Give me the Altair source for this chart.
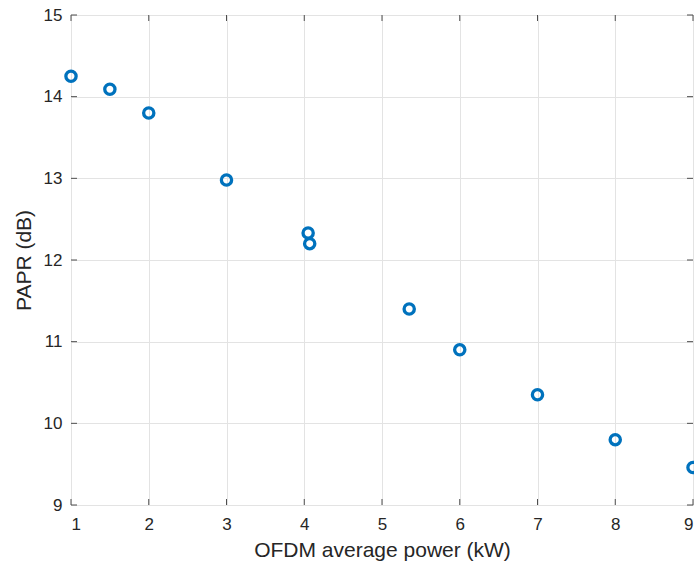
import altair as alt
import pandas as pd

# Measured PAPR at each OFDM average power level
power_kw = [1, 1.5, 2, 3, 4.05, 4.07, 5.35, 6, 7, 8, 9]
papr_db = [14.25, 14.09, 13.8, 12.98, 12.33, 12.2, 11.4, 10.9, 10.35, 9.8, 9.46]

x_ticks = [1, 2, 3, 4, 5, 6, 7, 8, 9]
y_ticks = [9, 10, 11, 12, 13, 14, 15]

W, H = 622, 490
TICK = 6
AXIS_COLOR = "#4d4d4d"
TEXT_COLOR = "#262626"
FONT = "Liberation Sans"

points = pd.DataFrame({"power": power_kw, "papr": papr_db})
xt = pd.DataFrame({"v": x_ticks})
yt = pd.DataFrame({"v": y_ticks})

x_scale = alt.Scale(domain=[1, 9], nice=False, zero=False)
y_scale = alt.Scale(domain=[9, 15], nice=False, zero=False)

x_axis = alt.Axis(
    values=x_ticks, format="d", grid=True, gridColor="#e3e3e3", gridWidth=1,
    ticks=False, domain=False, labelPadding=11, labelFontSize=17,
    labelColor=TEXT_COLOR, labelFont=FONT, title="OFDM average power (kW)",
    titleFontSize=21, titleFont=FONT, titleColor=TEXT_COLOR,
    titleFontWeight="normal", titlePadding=7,
)
y_axis = alt.Axis(
    values=y_ticks, format="d", grid=True, gridColor="#e3e3e3", gridWidth=1,
    ticks=False, domain=False, labelPadding=9, labelFontSize=17,
    labelColor=TEXT_COLOR, labelFont=FONT, title="PAPR (dB)",
    titleFontSize=21, titleFont=FONT, titleColor=TEXT_COLOR,
    titleFontWeight="normal", titlePadding=9,
)

scatter = alt.Chart(points).mark_point(
    shape="circle", filled=False, size=105, strokeWidth=3.3, color="#0072BD", opacity=1
).encode(
    x=alt.X("power:Q", scale=x_scale, axis=x_axis),
    y=alt.Y("papr:Q", scale=y_scale, axis=y_axis),
)

# Inward-pointing tick marks on all four sides of the box
tick_style = dict(color=AXIS_COLOR, strokeWidth=1)
x_bottom = alt.Chart(xt).mark_rule(**tick_style).encode(
    x=alt.X("v:Q", scale=x_scale), y=alt.value(H), y2=alt.value(H - TICK))
x_top = alt.Chart(xt).mark_rule(**tick_style).encode(
    x=alt.X("v:Q", scale=x_scale), y=alt.value(0), y2=alt.value(TICK))
y_left = alt.Chart(yt).mark_rule(**tick_style).encode(
    y=alt.Y("v:Q", scale=y_scale), x=alt.value(0), x2=alt.value(TICK))
y_right = alt.Chart(yt).mark_rule(**tick_style).encode(
    y=alt.Y("v:Q", scale=y_scale), x=alt.value(W), x2=alt.value(W - TICK))

chart = alt.layer(x_bottom, x_top, y_left, y_right, scatter).properties(
    width=W, height=H,
    autosize=alt.AutoSizeParams(type="none"),
    padding={"left": 71, "top": 15, "right": 1, "bottom": 61},
).configure_view(
    stroke=AXIS_COLOR, strokeWidth=1
).configure(background="white")

chart.save("out.html", embed_options={"renderer": "svg", "actions": False})
